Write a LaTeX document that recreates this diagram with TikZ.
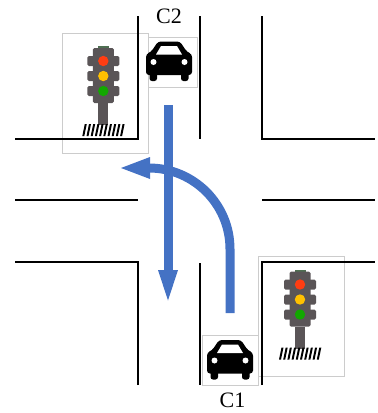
\documentclass[tikz,border=0pt]{standalone}
\usepackage{fontspec}
\setmainfont{Liberation Serif}
\definecolor{flow}{HTML}{4472C4}
\definecolor{lamp}{HTML}{5A5557}
\definecolor{lampcap}{HTML}{4F6F52}
\definecolor{lampred}{HTML}{FF3D12}
\definecolor{lampamber}{HTML}{FFC000}
\definecolor{lampgreen}{HTML}{12A800}
\tikzset{
  road/.style={draw=black,line width=2pt,line cap=butt,line join=miter},
  frameline/.style={draw=black!20,line width=0.8pt},
  lab/.style={font=\fontsize{22}{24}\selectfont,inner sep=0pt},
  flowline/.style={draw=flow,line width=9pt,line cap=butt},
  carpic/.pic={
    \fill[black,rounded corners=3pt] (-23,-7) -- (-23,14) -- (23,14) -- (23,-7) -- (18,-9) -- (11,-19.5) -- (-11,-19.5) -- (-18,-9) -- cycle;
    \fill[black,rounded corners=2.5pt] (-19.5,10) rectangle (-12,20);
    \fill[black,rounded corners=2.5pt] (12,10) rectangle (19.5,20);
    \fill[white] (-13,-6.5) -- (-8,-15) -- (8,-15) -- (13,-6.5) -- cycle;
    \fill[white] (-15.5,1) circle (3);
    \fill[white] (15.5,1) circle (3);
  },
  lightpic/.pic={
    \fill[lampcap] (-5.5,-30) rectangle (5.5,-26);
    \fill[lamp,rounded corners=1.5pt] (-10.5,-28) rectangle (10.5,27);
    \foreach \yy in {-15,0,15}{
      \fill[lamp,rounded corners=1.5pt] (-16,\yy-5) rectangle (16,\yy+5);
    }
    \fill[lamp] (-5,27) rectangle (5,49);
    \fill[lampred] (0,-15) circle (5.2);
    \fill[lampamber] (0,0) circle (5.2);
    \fill[lampgreen] (0,15) circle (5.2);
    \foreach \xx in {0,4.2,...,38}{
      \fill[black] (-18.5+\xx,48) -- (-16.5+\xx,48) -- (-19+\xx,60) -- (-21+\xx,60) -- cycle;
    }
  }
}
\begin{document}
\begin{tikzpicture}[x=1pt,y=-1pt]
\useasboundingbox (0,0) rectangle (378,413);
% frames
\path[frameline] (62,33) rectangle (148,153);
\path[frameline] (148,37) rectangle (197,87);
\path[frameline] (258,256) rectangle (344,376);
\path[frameline] (202,335) rectangle (258,385);
% roads
\coordinate (tlA) at (138,16);
\coordinate (tlB) at (138,139);
\coordinate (tlC) at (15,139);
\coordinate (trA) at (262,16);
\coordinate (trB) at (262,139);
\coordinate (trC) at (375,139);
\coordinate (blA) at (138,385);
\coordinate (blB) at (138,262);
\coordinate (blC) at (15,262);
\coordinate (brA) at (262,385);
\coordinate (brB) at (262,262);
\coordinate (brC) at (375,262);
\path[road] (tlA) -- (tlB) -- (tlC);
\path[road] (trA) -- (trB) -- (trC);
\path[road] (blA) -- (blB) -- (blC);
\path[road] (brA) -- (brB) -- (brC);
\path[road] (200,16) -- (200,139);
\path[road] (200,263) -- (200,385);
\path[road] (15,200) -- (138,200);
\path[road] (262,200) -- (375,200);
% icons
\pic at (103.3,76) {lightpic};
\pic at (300,299.5) {lightpic};
\pic at (169,61) {carpic};
\pic at (230,359.5) {carpic};
% arrows
\coordinate (sA) at (168,105);
\coordinate (sB) at (168,271);
\path[flowline] (sA) -- (sB);
\fill[flow] (178,270) -- (168,300.5) -- (158,270) -- cycle;
\coordinate (cA) at (230,313);
\coordinate (cB) at (230,249);
\coordinate (cC) at (149,168);
\path[flowline] (cA) -- (cB) .. controls (230,204.3) and (193.7,168) .. (cC);
\fill[flow] (150,179) -- (121,168) -- (150,157) -- cycle;
% labels
\node[lab] (c2) at (169,16) {C2};
\node[lab] (c1) at (232.5,400) {C1};
\end{tikzpicture}
\end{document}
